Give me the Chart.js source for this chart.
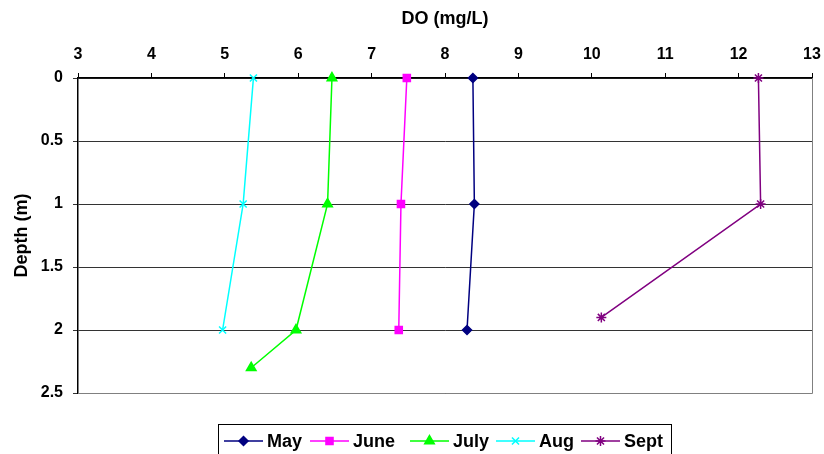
<!DOCTYPE html>
<html>
<head>
<meta charset="utf-8">
<script src="https://cdn.jsdelivr.net/npm/chart.js@4"></script>
<style>
  html, body { margin: 0; padding: 0; background: #fff; }
  #wrap { width: 824px; height: 454px; }
</style>
</head>
<body>
<div id="wrap"><canvas id="c" width="824" height="454"></canvas></div>
<script>
// Dissolved oxygen profiles by month: depth (m) vs DO (mg/L)
const months = ['May', 'June', 'July', 'Aug', 'Sept'];

const mayDepth = [0, 1, 2];
const mayDO = [8.38, 8.40, 8.30];

const juneDepth = [0, 1, 2];
const juneDO = [7.48, 7.40, 7.37];

const julyDepth = [0, 1, 2, 2.3];
const julyDO = [6.46, 6.40, 5.97, 5.36];

const augDepth = [0, 1, 2];
const augDO = [5.39, 5.25, 4.97];

const septDepth = [0, 1, 1.9];
const septDO = [12.27, 12.30, 10.13];

const doTicks = [3, 4, 5, 6, 7, 8, 9, 10, 11, 12, 13];
const depthTicks = [0, 0.5, 1, 1.5, 2, 2.5];

const FONT = "Arial, 'Liberation Sans', sans-serif";

const pairs = (xs, ys) => xs.map((x, i) => ({ x: x, y: ys[i] }));

const styles = [
  { color: '#000080', pointStyle: 'rectRot', radius: 4.5 },
  { color: '#FF00FF', pointStyle: 'rect', radius: 5 },
  { color: '#00FF00', pointStyle: 'triangle', radius: 5.5 },
  { color: '#00FFFF', pointStyle: 'crossRot', radius: 5 },
  { color: '#800080', pointStyle: 'star', radius: 5 }
];

const series = [
  pairs(mayDO, mayDepth),
  pairs(juneDO, juneDepth),
  pairs(julyDO, julyDepth),
  pairs(augDO, augDepth),
  pairs(septDO, septDepth)
];

const datasets = months.map((m, i) => ({
  label: m,
  data: series[i],
  showLine: true,
  clip: false,
  borderColor: styles[i].color,
  backgroundColor: styles[i].color,
  borderWidth: 1.5,
  pointStyle: styles[i].pointStyle,
  pointRadius: styles[i].radius,
  pointHoverRadius: styles[i].radius,
  pointBorderWidth: 1.5,
  pointBorderColor: styles[i].color,
  pointBackgroundColor: styles[i].color,
  tension: 0
}));

// Frame on the right and bottom of the plot area
const frame = {
  id: 'frame',
  beforeDatasetsDraw(chart) {
    const { ctx, chartArea: a } = chart;
    ctx.save();
    ctx.strokeStyle = '#808080';
    ctx.lineWidth = 1;
    ctx.beginPath();
    ctx.moveTo(a.right + 0.5, a.top);
    ctx.lineTo(a.right + 0.5, a.bottom + 0.5);
    ctx.lineTo(a.left, a.bottom + 0.5);
    ctx.stroke();
    ctx.restore();
  }
};

// Boxed legend with line + marker samples
const boxLegend = {
  id: 'boxLegend',
  afterDraw(chart) {
    const ctx = chart.ctx;
    const box = { left: 218, top: 424, right: 671, bottom: 458 };
    const cy = 441;
    const starts = [224, 310, 410, 496, 581];
    ctx.save();
    ctx.strokeStyle = '#000';
    ctx.lineWidth = 1;
    ctx.strokeRect(box.left + 0.5, box.top + 0.5, box.right - box.left, box.bottom - box.top);
    ctx.font = 'bold 18px ' + FONT;
    ctx.textBaseline = 'middle';
    ctx.textAlign = 'left';
    months.forEach((m, i) => {
      const s = styles[i];
      const x0 = starts[i];
      ctx.strokeStyle = s.color;
      ctx.fillStyle = s.color;
      ctx.lineWidth = 1.5;
      ctx.beginPath();
      ctx.moveTo(x0, cy);
      ctx.lineTo(x0 + 39, cy);
      ctx.stroke();
      Chart.helpers.drawPoint(ctx, {
        pointStyle: s.pointStyle, radius: s.radius, rotation: 0, borderWidth: 1.5
      }, x0 + 19.5, cy);
      ctx.fillStyle = '#000';
      ctx.fillText(m, x0 + 43, cy + 1);
    });
    ctx.restore();
  }
};

new Chart(document.getElementById('c'), {
  type: 'scatter',
  data: { datasets: datasets },
  options: {
    responsive: false,
    animation: false,
    events: [],
    layout: { padding: { left: 0, top: 0, right: 12, bottom: 61 } },
    plugins: { legend: { display: false }, tooltip: { enabled: false } },
    scales: {
      x: {
        type: 'linear',
        position: 'top',
        min: 3,
        max: 13,
        afterBuildTicks(scale) { scale.ticks = doTicks.map(v => ({ value: v })); },
        afterFit(scale) {
          scale.height = 78;
          scale.paddingLeft = 0;
          scale.paddingRight = 0;
        },
        ticks: {
          color: '#000',
          font: { family: FONT, size: 16, weight: 'bold' },
          padding: 9,
          maxRotation: 0,
          callback: v => String(v)
        },
        grid: { drawOnChartArea: false, color: '#000', tickLength: 5 },
        border: { color: '#000', width: 1.5 },
        title: {
          display: true,
          text: 'DO (mg/L)',
          color: '#000',
          font: { family: FONT, size: 18, weight: 'bold' },
          padding: { top: 8, bottom: 0 }
        }
      },
      y: {
        type: 'linear',
        reverse: true,
        min: 0,
        max: 2.5,
        afterBuildTicks(scale) { scale.ticks = depthTicks.map(v => ({ value: v })); },
        afterFit(scale) {
          scale.width = 78;
          scale.paddingTop = 0;
          scale.paddingBottom = 0;
        },
        ticks: {
          color: '#000',
          font: { family: FONT, size: 16, weight: 'bold' },
          padding: 10,
          callback: v => String(v)
        },
        grid: { color: '#333', lineWidth: 1, tickLength: 5 },
        border: { color: '#000', width: 1.5 },
        title: {
          display: true,
          text: 'Depth (m)',
          color: '#000',
          font: { family: FONT, size: 18, weight: 'bold' },
          padding: { top: 11, bottom: 0 }
        }
      }
    }
  },
  plugins: [frame, boxLegend]
});
</script>
</body>
</html>
